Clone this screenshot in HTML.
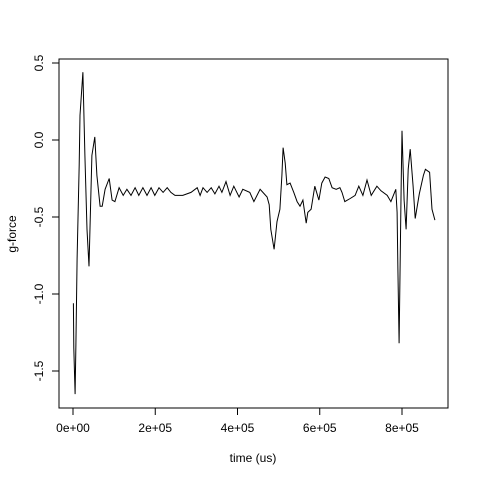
<!DOCTYPE html>
<html><head><meta charset="utf-8"><style>
body{margin:0;background:#fff}
svg text{font-family:"Liberation Sans",Arial,sans-serif;font-size:12px;fill:#000}
</style></head><body>
<svg width="480" height="480">
<rect x="59" y="59" width="389" height="349" fill="none" stroke="#000"/>
<g id="xaxis"></g>
<g id="yaxis"></g>
<path id="line" fill="none" stroke="#000" stroke-width="1"/>
<text x="253" y="462" text-anchor="middle">time (us)</text>
<text x="16" y="234" text-anchor="middle" transform="rotate(-90 16 234)">g-force</text>
</svg>
<script>
const times=[1,2,5,7,10,15,17,24,29,34,39,46,53,58,66,71,78,88,95,102,112,122,131,141,151,160,170,180,190,199,209,219,229,238,248,267,287,302,309,316,326,336,345,355,362,372,382,391,404,413,430,440,455,472,477,481,489,496,503,508,511,516,520,528,537,545,552,559,567,571,579,588,598,605,613,622,630,640,649,654,661,674,686,695,705,715,725,739,749,764,773,785,788,790,793,798,800,805,810,815,820,827,832,842,852,857,867,873,880];
const gforce=[-1.06,-1.35,-1.65,-1.33,-0.77,-0.16,0.16,0.44,-0.10,-0.58,-0.82,-0.10,0.02,-0.23,-0.43,-0.43,-0.32,-0.25,-0.39,-0.40,-0.31,-0.36,-0.32,-0.36,-0.31,-0.36,-0.31,-0.36,-0.31,-0.36,-0.31,-0.34,-0.31,-0.34,-0.36,-0.36,-0.34,-0.31,-0.36,-0.31,-0.34,-0.31,-0.35,-0.30,-0.34,-0.27,-0.36,-0.30,-0.37,-0.32,-0.34,-0.40,-0.32,-0.37,-0.42,-0.58,-0.71,-0.53,-0.45,-0.23,-0.05,-0.15,-0.29,-0.28,-0.34,-0.40,-0.43,-0.39,-0.54,-0.47,-0.45,-0.30,-0.39,-0.28,-0.24,-0.25,-0.31,-0.32,-0.31,-0.34,-0.40,-0.38,-0.36,-0.30,-0.36,-0.26,-0.36,-0.30,-0.33,-0.36,-0.40,-0.32,-0.47,-0.84,-1.32,-0.28,0.06,-0.39,-0.58,-0.19,-0.06,-0.30,-0.51,-0.35,-0.23,-0.19,-0.21,-0.45,-0.52];
const xTicks=[0,200,400,600,800];
const xTickLabels=["0e+00","2e+05","4e+05","6e+05","8e+05"];
const yTicks=[-1.5,-1.0,-0.5,0.0,0.5];
const yTickLabels=["-1.5","-1.0","-0.5","0.0","0.5"];
const X=t=>73+t*1000*82.25/2e5;
const Y=v=>140-v*154;
const NS="http://www.w3.org/2000/svg";
let d="";
times.forEach((t,i)=>{d+=(i?"L":"M")+X(t).toFixed(1)+","+Y(gforce[i]).toFixed(1);});
document.getElementById("line").setAttribute("d",d);
const xa=document.getElementById("xaxis");
const xl=document.createElementNS(NS,"line");
xl.setAttribute("x1",X(xTicks[0]));xl.setAttribute("x2",X(xTicks[xTicks.length-1]));
xl.setAttribute("y1",408);xl.setAttribute("y2",408);xl.setAttribute("stroke","#000");


xa.appendChild(xl);
xTicks.forEach((t,i)=>{
 const l=document.createElementNS(NS,"line");
 l.setAttribute("x1",X(t));l.setAttribute("x2",X(t));l.setAttribute("y1",408);l.setAttribute("y2",415);l.setAttribute("stroke","#000");
 
 
 xa.appendChild(l);
 const tx=document.createElementNS(NS,"text");
 tx.setAttribute("x",X(t));tx.setAttribute("y",432);tx.setAttribute("text-anchor","middle");
 tx.textContent=xTickLabels[i];
 
 
 xa.appendChild(tx);
});
const ya=document.getElementById("yaxis");
const yl=document.createElementNS(NS,"line");
yl.setAttribute("x1",59);yl.setAttribute("x2",59);
yl.setAttribute("y1",Y(yTicks[0]));yl.setAttribute("y2",Y(yTicks[yTicks.length-1]));yl.setAttribute("stroke","#000");


ya.appendChild(yl);
yTicks.forEach((v,i)=>{
 const l=document.createElementNS(NS,"line");
 l.setAttribute("x1",52);l.setAttribute("x2",59);l.setAttribute("y1",Y(v));l.setAttribute("y2",Y(v));l.setAttribute("stroke","#000");
 
 
 ya.appendChild(l);
 const tx=document.createElementNS(NS,"text");
 const px=43,py=Y(v);
 tx.setAttribute("x",px);tx.setAttribute("y",py);tx.setAttribute("text-anchor","middle");
 tx.setAttribute("transform","rotate(-90 "+px+" "+py+")");
 tx.textContent=yTickLabels[i];
 
 
 ya.appendChild(tx);
});
</script>
</body></html>
